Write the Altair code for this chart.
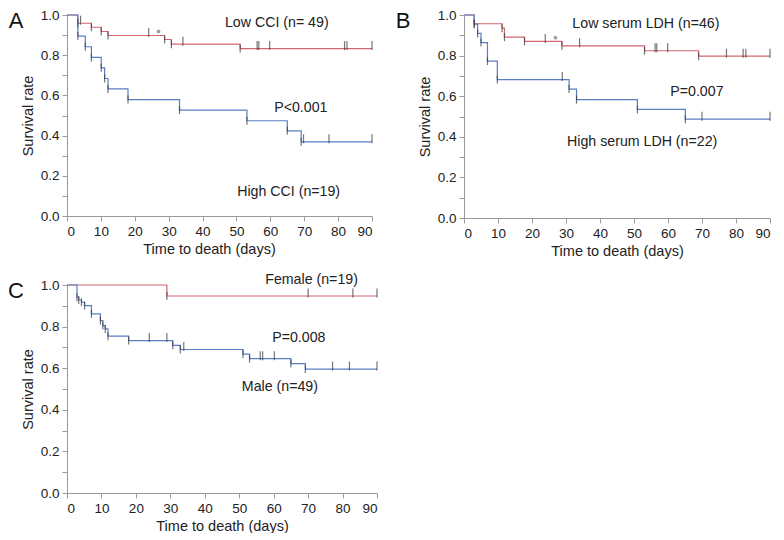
import altair as alt
import pandas as pd

RED = "#d2666f"
BLUE = "#5a7ec4"
TICK = "#3a3a3a"
FONT = "Liberation Sans"

# ---------------- Panel A: CCI ----------------
a_low_name = "Low CCI"
a_low_t = [0, 3.2, 7.2, 10.1, 12.1, 28.8, 30.8, 51.1, 90]
a_low_s = [1.0, 0.959, 0.939, 0.918, 0.898, 0.878, 0.855, 0.833, 0.833]
a_low_cens = [4.0, 24.1, 34.2, 56.1, 56.6, 59.8, 81.9, 82.6, 90]

a_high_name = "High CCI"
a_high_t = [0, 3.2, 5.4, 7.2, 10.1, 11.1, 12.1, 18.0, 33.2, 53.1, 65.0, 69.1, 90]
a_high_s = [1.0, 0.895, 0.842, 0.789, 0.737, 0.684, 0.632, 0.579, 0.527, 0.474, 0.424, 0.369, 0.369]
a_high_cens = [69.8, 77.3, 90]

a_dot = (27.0, 0.918)
a_labels = ["Low CCI (n= 49)", "P<0.001", "High CCI (n=19)"]
a_label_t = [61.9, 69.0, 65.4]
a_label_s = [0.96, 0.537, 0.117]

# ---------------- Panel B: serum LDH ----------------
b_low_name = "Low serum LDH"
b_low_t = [0, 3.0, 11.2, 11.9, 17.8, 28.8, 53.1, 69.0, 90]
b_low_s = [1.0, 0.957, 0.935, 0.891, 0.870, 0.848, 0.824, 0.797, 0.797]
b_low_cens = [23.9, 34.0, 56.2, 56.7, 59.9, 77.2, 82.1, 82.9, 90]

b_high_name = "High serum LDH"
b_high_t = [0, 3.0, 4.0, 5.0, 6.9, 9.8, 30.9, 33.1, 51.0, 65.1, 90]
b_high_s = [1.0, 0.955, 0.909, 0.864, 0.773, 0.682, 0.635, 0.583, 0.535, 0.487, 0.487]
b_high_cens = [28.9, 70.0, 90]

b_dot = (26.9, 0.888)
b_labels = ["Low serum LDH (n=46)", "P=0.007", "High serum LDH (n=22)"]
b_label_t = [53.5, 68.5, 52.4]
b_label_s = [0.956, 0.62, 0.374]

# ---------------- Panel C: sex ----------------
c_f_name = "Female"
c_f_t = [0, 29.0, 90]
c_f_s = [1.0, 0.947, 0.947]
c_f_cens = [70.0, 83.0, 90]

c_m_name = "Male"
c_m_t = [0, 2.9, 3.4, 4.2, 5.1, 7.1, 9.7, 10.4, 11.1, 11.9, 17.9, 30.7, 32.9, 51.1, 53.0, 65.0, 69.2, 90]
c_m_s = [1.0, 0.941, 0.928, 0.917, 0.901, 0.861, 0.829, 0.805, 0.789, 0.754, 0.733, 0.710, 0.690, 0.668, 0.646, 0.622, 0.596, 0.596]
c_m_cens = [23.9, 29.0, 33.9, 56.1, 56.8, 60.2, 77.1, 82.0, 90]

c_labels = ["Female (n=19)", "P=0.008", "Male (n=49)"]
c_label_t = [71.0, 67.3, 61.8]
c_label_s = [1.024, 0.745, 0.51]

x_ticks = list(range(0, 91, 10))
y_ticks = [round(i / 10, 1) for i in range(11)]


def surv_at(times, surv, t):
    val = surv[0]
    for ti, si in zip(times, surv):
        if ti <= t + 1e-9:
            val = si
    return val


def panel(letter, letter_x, width, height, series, labels, label_t, label_s, dot=None, title_x=None):
    line_rows, tick_rows = [], []
    names, colors = [], []
    for name, color, times, surv, cens in series:
        names.append(name)
        colors.append(color)
        for t, s in zip(times, surv):
            line_rows.append({"t": t, "s": s, "g": name})
        for t in times[1:-1]:
            tick_rows.append({"t": t, "s": surv_at(times, surv, t), "kind": "drop"})
        for t in cens:
            tick_rows.append({"t": t, "s": surv_at(times, surv, t), "kind": "cens"})
    lines = pd.DataFrame(line_rows)
    ticks = pd.DataFrame(tick_rows)

    x_axis_kw = dict(values=x_ticks, title="Time to death (days)", labelPadding=3, titlePadding=5)
    if title_x is not None:
        x_axis_kw["titleX"] = title_x
    x = alt.X("t:Q", scale=alt.Scale(domain=[0, 90], nice=False, zero=True), axis=alt.Axis(**x_axis_kw))
    y = alt.Y(
        "s:Q",
        scale=alt.Scale(domain=[0, 1], nice=False),
        axis=alt.Axis(
            values=y_ticks,
            title="Survival rate",
            labelExpr="round(datum.value*10) % 2 == 0 ? format(datum.value, '.1f') : ''",
            labelPadding=3,
            titlePadding=5,
        ),
    )

    line_layer = alt.Chart(lines).mark_line(interpolate="step-after", strokeWidth=1.2).encode(
        x=x, y=y,
        color=alt.Color("g:N", scale=alt.Scale(domain=names, range=colors), legend=None),
    )
    drop_layer = alt.Chart(ticks).transform_filter(alt.datum.kind == "drop").mark_tick(
        orient="vertical", size=8, thickness=1.2, color=TICK
    ).encode(x=x, y=y)
    cens_layer = alt.Chart(ticks).transform_filter(alt.datum.kind == "cens").mark_tick(
        orient="vertical", size=9, thickness=1.2, color=TICK, yOffset=-3
    ).encode(x=x, y=y)

    ann = pd.DataFrame({"t": label_t, "s": label_s, "label": labels})
    text_layer = alt.Chart(ann).mark_text(fontSize=14.2, font=FONT, color="#222", align="center", baseline="middle").encode(
        x=x, y=y, text="label:N"
    )
    letter_layer = alt.Chart(pd.DataFrame({"label": [letter]})).mark_text(
        fontSize=22, font=FONT, color="#111", align="center", baseline="middle"
    ).encode(x=alt.value(letter_x), y=alt.value(6), text="label:N")

    layers = [line_layer, drop_layer, cens_layer, text_layer, letter_layer]
    if dot is not None:
        dd = pd.DataFrame({"t": [dot[0]], "s": [dot[1]]})
        layers.append(alt.Chart(dd).mark_point(filled=True, size=14, color="#a0a0a0", opacity=1).encode(x=x, y=y))
    return alt.layer(*layers).properties(width=width, height=height)


pa = panel("A", -51, 305, 201,
           [(a_low_name, RED, a_low_t, a_low_s, a_low_cens), (a_high_name, BLUE, a_high_t, a_high_s, a_high_cens)],
           a_labels, a_label_t, a_label_s, dot=a_dot, title_x=142)
pb = panel("B", -61, 306, 203,
           [(b_low_name, RED, b_low_t, b_low_s, b_low_cens), (b_high_name, BLUE, b_high_t, b_high_s, b_high_cens)],
           b_labels, b_label_t, b_label_s, dot=b_dot)
pc = panel("C", -51, 310, 208,
           [(c_f_name, RED, c_f_t, c_f_s, c_f_cens), (c_m_name, BLUE, c_m_t, c_m_s, c_m_cens)],
           c_labels, c_label_t, c_label_s)

chart = alt.vconcat(
    alt.hconcat(pa, pb, spacing=20),
    pc,
    spacing=15,
).properties(padding=0).configure_view(stroke=None).configure_axis(
    grid=False,
    domainColor="#9a9a9a",
    tickColor="#9a9a9a",
    tickSize=5,
    labelFontSize=13.5,
    labelColor="#222",
    labelFont=FONT,
    titleFont=FONT,
    titleFontSize=14.5,
    titleFontWeight="normal",
    titleColor="#222",
).configure_text(font=FONT)

chart.save("out.html", embed_options={"renderer": "svg", "actions": False})
